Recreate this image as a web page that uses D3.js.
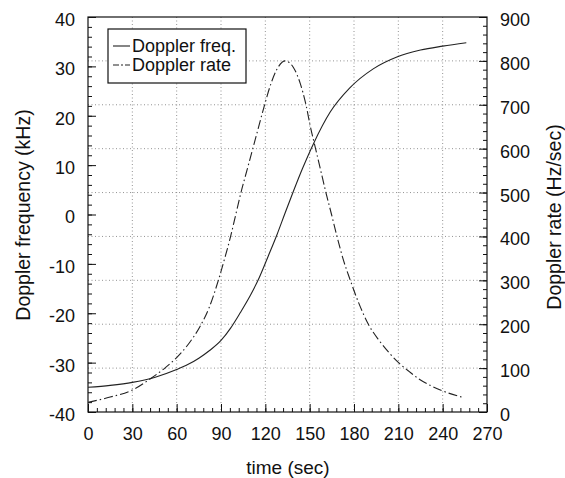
<!DOCTYPE html>
<html>
<head>
<meta charset="utf-8">
<script src="https://cdn.jsdelivr.net/npm/d3@7"></script>
<style>
  body { margin: 0; background: #fff; }
  svg text { font-family: "Liberation Sans", Arial, Helvetica, sans-serif; fill: #111; }
</style>
</head>
<body>
<div id="chart"></div>
<script>
// doppler frequency (left axis, kHz) and doppler rate (right axis, Hz/sec) vs time
const freqTime = [0, 15, 30, 45, 60, 67.5, 75, 82.5, 90, 96.5, 103, 110, 116, 122, 128, 133.5, 139, 145, 152.5, 164, 177, 193, 209, 225, 240, 256];
const freqKHz = [-35.0, -34.6, -34.0, -33.0, -31.4, -30.4, -29.1, -27.5, -25.5, -23.0, -19.9, -16.3, -12.7, -8.4, -4.0, 0.4, 4.7, 9.2, 14.3, 20.8, 25.6, 29.5, 31.9, 33.3, 34.1, 34.8];

const rateTime = [0, 15, 30, 44, 52, 60, 68, 76, 82, 88.2, 92.5, 96.5, 100, 103.5, 107.5, 111.5, 115.5, 119.5, 124, 128, 133.5,
  139, 143.5, 147.5, 150.5, 154, 157.5, 161, 164.8, 168.5, 172.5, 177.5, 183, 189.7, 197, 204, 210, 217, 225, 232, 240, 254];
const rateHz = [22, 34, 50, 80, 100, 124, 155, 196, 238, 300, 350, 400, 450, 500, 550, 600, 650, 700, 750, 782, 800,
  785, 750, 700, 650, 600, 550, 500, 450, 400, 350, 300, 250, 200, 163, 134, 113, 93, 73, 60, 48, 33];

const xTicks = [0, 30, 60, 90, 120, 150, 180, 210, 240, 270];
const leftTicks = [-40, -30, -20, -10, 0, 10, 20, 30, 40];
const rightTicks = [0, 100, 200, 300, 400, 500, 600, 700, 800, 900];

const seriesNames = ["Doppler freq.", "Doppler rate"];

const width = 565;
const height = 478;
const pLeft = 88, pRight = 487, pTop = 17, pBottom = 412;

const svg = d3.select("#chart")
  .append("svg")
  .attr("width", width)
  .attr("height", height);

const x = d3.scaleLinear().domain([0, 270]).range([pLeft, pRight]);
const yL = d3.scaleLinear().domain([-40, 40]).range([pBottom, pTop]);
const yR = d3.scaleLinear().domain([0, 900]).range([pBottom, pTop]);

// dotted grid: verticals at time ticks, horizontals at the rate ticks
const grid = svg.append("g")
  .attr("stroke", "#777")
  .attr("stroke-width", 0.8)
  .attr("stroke-dasharray", "1,2.5");

grid.selectAll(".vg")
  .data(xTicks.slice(1, -1))
  .enter()
  .append("line")
  .attr("x1", d => x(d)).attr("x2", d => x(d))
  .attr("y1", pTop).attr("y2", pBottom);

grid.selectAll(".hg")
  .data(rightTicks.slice(1, -1))
  .enter()
  .append("line")
  .attr("x1", pLeft).attr("x2", pRight)
  .attr("y1", d => yR(d)).attr("y2", d => yR(d));

// minor ticks (inward)
const minorX = d3.range(0, 271, 6);
const minorL = d3.range(-40, 41, 2);
const minorR = d3.range(0, 901, 20);

svg.append("g")
  .attr("transform", `translate(0,${pBottom})`)
  .call(d3.axisBottom(x).tickValues(minorX).tickSize(-4).tickSizeOuter(0).tickFormat(""))
  .call(g => g.select(".domain").remove());

svg.append("g")
  .attr("transform", `translate(${pLeft},0)`)
  .call(d3.axisLeft(yL).tickValues(minorL).tickSize(-4).tickSizeOuter(0).tickFormat(""))
  .call(g => g.select(".domain").remove());

svg.append("g")
  .attr("transform", `translate(${pRight},0)`)
  .call(d3.axisRight(yR).tickValues(minorR).tickSize(-4).tickSizeOuter(0).tickFormat(""))
  .call(g => g.select(".domain").remove());

// major ticks with labels (plain hyphen for negatives)
const plain = d => String(d);

const xAxis = svg.append("g")
  .attr("transform", `translate(0,${pBottom})`)
  .call(d3.axisBottom(x).tickValues(xTicks).tickSize(-8).tickSizeOuter(0).tickPadding(15).tickFormat(plain));

const lAxis = svg.append("g")
  .attr("transform", `translate(${pLeft},0)`)
  .call(d3.axisLeft(yL).tickValues(leftTicks).tickSize(-8).tickSizeOuter(0).tickPadding(13).tickFormat(plain));

const rAxis = svg.append("g")
  .attr("transform", `translate(${pRight},0)`)
  .call(d3.axisRight(yR).tickValues(rightTicks).tickSize(-8).tickSizeOuter(0).tickPadding(13).tickFormat(plain));

[xAxis, lAxis, rAxis].forEach(a => {
  a.select(".domain").remove();
  a.selectAll("text").style("font-size", "18px").attr("fill", "#111");
});
svg.selectAll("g.tick line").attr("stroke", "#111");
lAxis.selectAll("text").attr("dy", "0.47em");
rAxis.selectAll("text").attr("dy", "0.47em");
xAxis.selectAll("text").attr("dy", "0.71em");

// frame
svg.append("rect")
  .attr("x", pLeft).attr("y", pTop)
  .attr("width", pRight - pLeft).attr("height", pBottom - pTop)
  .attr("fill", "none")
  .attr("stroke", "#111")
  .attr("stroke-width", 1.2);

// curves
const freqLine = d3.line()
  .x(d => x(d[0]))
  .y(d => yL(d[1]))
  .curve(d3.curveMonotoneX);

const rateLine = d3.line()
  .x(d => x(d[0]))
  .y(d => yR(d[1]))
  .curve(d3.curveMonotoneX);

svg.append("path")
  .datum(d3.zip(freqTime, freqKHz))
  .attr("d", freqLine)
  .attr("fill", "none")
  .attr("stroke", "#222")
  .attr("stroke-width", 1.1);

svg.append("path")
  .datum(d3.zip(rateTime, rateHz))
  .attr("d", rateLine)
  .attr("fill", "none")
  .attr("stroke", "#222")
  .attr("stroke-width", 1.1)
  .attr("stroke-dasharray", "9,3,1.5,3");

// legend
const legend = svg.append("g");
legend.append("rect")
  .attr("x", 108).attr("y", 29)
  .attr("width", 138).attr("height", 54)
  .attr("fill", "#fff")
  .attr("stroke", "#111")
  .attr("stroke-width", 1.2);

seriesNames.forEach((name, i) => {
  const ly = 46 + i * 19;
  legend.append("line")
    .attr("x1", 113).attr("x2", 130)
    .attr("y1", ly).attr("y2", ly)
    .attr("stroke", "#222")
    .attr("stroke-width", 1.1)
    .attr("stroke-dasharray", i === 1 ? "6,2,2,2" : null);
  legend.append("text")
    .attr("x", 132).attr("y", ly + 6)
    .style("font-size", "18px")
    .text(name);
});

// axis titles
svg.append("text")
  .attr("x", 288).attr("y", 474)
  .attr("text-anchor", "middle")
  .style("font-size", "19px")
  .text("time (sec)");

svg.append("text")
  .attr("transform", "translate(30,215) rotate(-90)")
  .attr("text-anchor", "middle")
  .style("font-size", "19.5px")
  .text("Doppler frequency (kHz)");

svg.append("text")
  .attr("transform", "translate(561,217) rotate(-90)")
  .attr("text-anchor", "middle")
  .style("font-size", "19.5px")
  .text("Doppler rate (Hz/sec)");
</script>
</body>
</html>
